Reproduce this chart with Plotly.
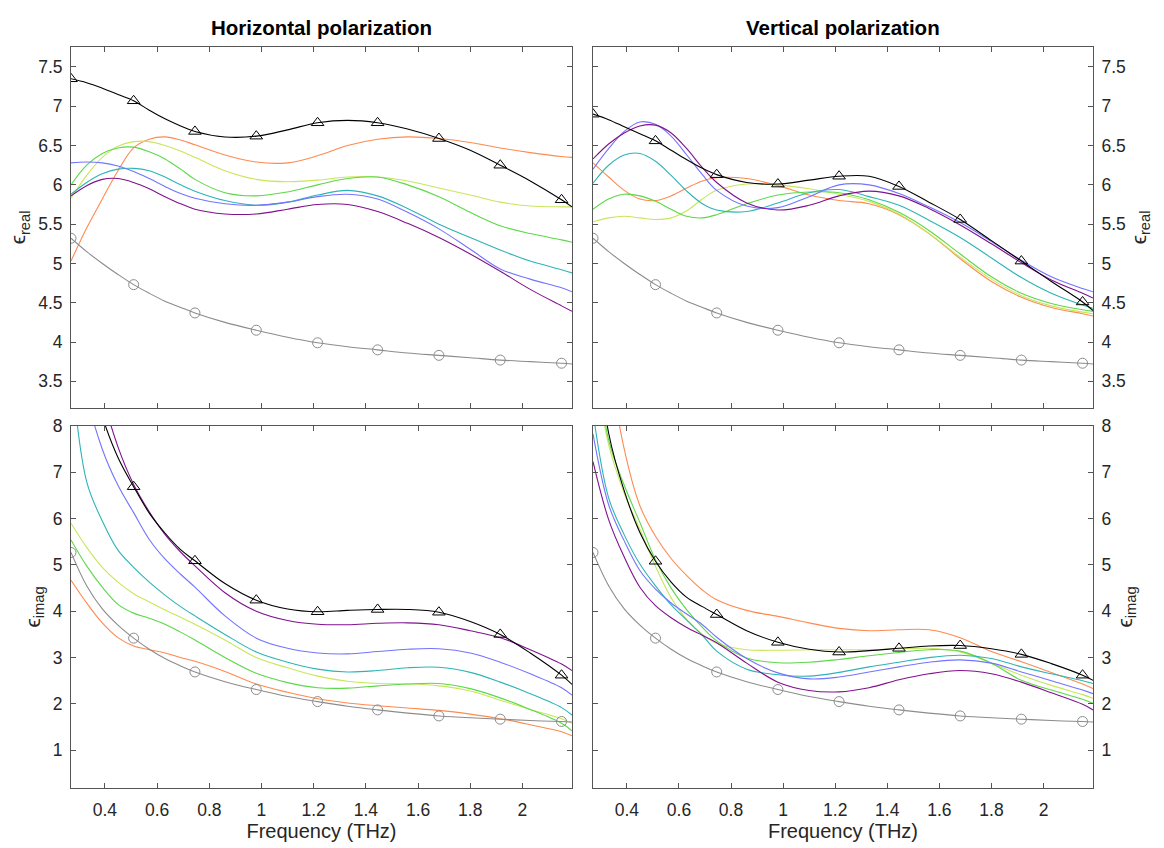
import plotly.graph_objects as go

# ---------------- data ----------------
FREQ = [0.27, 0.33, 0.39, 0.45, 0.51, 0.57, 0.63, 0.69, 0.745, 0.86, 0.98, 1.1,
        1.215, 1.33, 1.445, 1.56, 1.68, 1.8, 1.915, 2.03, 2.15, 2.19]
MARKER_FREQ = [0.27, 0.51, 0.745, 0.98, 1.215, 1.445, 1.68, 1.915, 2.15]

# Horizontal polarization, real part
H_REAL_BLACK = [7.35, 7.30, 7.23, 7.15, 7.07, 6.95, 6.84, 6.75, 6.68, 6.61, 6.62, 6.70,
                6.79, 6.82, 6.79, 6.71, 6.59, 6.44, 6.25, 6.05, 5.81, 5.72]
H_REAL_PURPLE = [5.86, 5.99, 6.07, 6.08, 6.03, 5.95, 5.85, 5.76, 5.69, 5.63, 5.63, 5.69,
                 5.75, 5.75, 5.66, 5.51, 5.33, 5.12, 4.90, 4.67, 4.46, 4.39]
H_REAL_BLUE = [6.28, 6.29, 6.28, 6.24, 6.17, 6.08, 5.98, 5.89, 5.83, 5.76, 5.74, 5.78,
               5.85, 5.88, 5.82, 5.65, 5.44, 5.18, 4.93, 4.80, 4.69, 4.64]
H_REAL_TEAL = [5.88, 6.03, 6.14, 6.20, 6.21, 6.18, 6.10, 6.00, 5.92, 5.80, 5.74, 5.78,
               5.87, 5.93, 5.86, 5.70, 5.50, 5.33, 5.17, 5.03, 4.92, 4.88]
H_REAL_GREEN = [6.00, 6.25, 6.40, 6.47, 6.48, 6.42, 6.33, 6.20, 6.07, 5.90, 5.86, 5.91,
                6.00, 6.08, 6.10, 6.00, 5.85, 5.65, 5.48, 5.38, 5.30, 5.27]
H_REAL_YELLOW = [5.83, 6.12, 6.35, 6.49, 6.55, 6.55, 6.50, 6.43, 6.35, 6.18, 6.07, 6.04,
                 6.06, 6.10, 6.10, 6.05, 5.96, 5.87, 5.78, 5.73, 5.72, 5.72]
H_REAL_ORANGE = [5.03, 5.45, 5.82, 6.18, 6.47, 6.58, 6.61, 6.57, 6.51, 6.38, 6.29, 6.28,
                 6.37, 6.50, 6.58, 6.61, 6.59, 6.54, 6.47, 6.41, 6.36, 6.35]

# Vertical polarization, real part
V_REAL_BLACK = [6.90, 6.83, 6.74, 6.65, 6.56, 6.44, 6.32, 6.21, 6.13, 6.03, 6.01, 6.06,
                6.11, 6.11, 5.98, 5.78, 5.56, 5.29, 5.03, 4.77, 4.51, 4.40]
V_REAL_PURPLE = [6.33, 6.52, 6.66, 6.75, 6.76, 6.66, 6.46, 6.22, 6.03, 5.77, 5.68, 5.74,
                 5.86, 5.92, 5.86, 5.70, 5.49, 5.25, 5.01, 4.79, 4.62, 4.56]
V_REAL_BLUE = [6.20, 6.46, 6.68, 6.80, 6.77, 6.62, 6.38, 6.13, 5.93, 5.73, 5.71, 5.85,
               6.00, 6.00, 5.89, 5.72, 5.52, 5.28, 5.04, 4.83, 4.68, 4.64]
V_REAL_TEAL = [6.02, 6.25, 6.38, 6.40, 6.30, 6.12, 5.92, 5.76, 5.68, 5.66, 5.77, 5.90,
               5.94, 5.85, 5.74, 5.55, 5.33, 5.07, 4.82, 4.62, 4.47, 4.43]
V_REAL_GREEN = [5.69, 5.82, 5.88, 5.86, 5.79, 5.69, 5.60, 5.58, 5.62, 5.76, 5.87, 5.91,
                5.90, 5.81, 5.65, 5.42, 5.12, 4.83, 4.62, 4.49, 4.41, 4.39]
V_REAL_YELLOW = [5.53, 5.58, 5.60, 5.58, 5.56, 5.58, 5.67, 5.82, 5.93, 6.01, 6.00, 5.95,
                 5.88, 5.79, 5.63, 5.38, 5.08, 4.80, 4.59, 4.46, 4.38, 4.36]
V_REAL_ORANGE = [6.28, 6.10, 5.93, 5.82, 5.80, 5.86, 5.96, 6.05, 6.09, 6.08, 5.99, 5.87,
                 5.80, 5.76, 5.62, 5.38, 5.06, 4.77, 4.57, 4.44, 4.36, 4.33]

# Reference (gray) real part, both polarizations
REAL_GRAY = [5.32, 5.15, 5.00, 4.86, 4.73, 4.62, 4.52, 4.44, 4.37, 4.25, 4.15, 4.06,
             3.99, 3.94, 3.90, 3.86, 3.83, 3.80, 3.77, 3.75, 3.73, 3.72]

# Horizontal polarization, imaginary part
H_IMAG_BLACK = [11.1, 9.4, 8.2, 7.32, 6.69, 6.12, 5.69, 5.33, 5.09, 4.60, 4.24, 4.05,
                3.99, 4.02, 4.04, 4.04, 3.98, 3.78, 3.50, 3.10, 2.62, 2.42]
H_IMAG_PURPLE = [13.0, 10.5, 8.7, 7.55, 6.74, 6.15, 5.66, 5.28, 4.98, 4.40, 4.00, 3.80,
                 3.72, 3.71, 3.74, 3.75, 3.71, 3.58, 3.43, 3.17, 2.86, 2.72]
H_IMAG_BLUE = [11.5, 8.7, 7.5, 6.72, 6.13, 5.55, 5.13, 4.80, 4.52, 3.90, 3.42, 3.20,
               3.10, 3.08, 3.13, 3.18, 3.19, 3.10, 2.90, 2.65, 2.35, 2.19]
H_IMAG_TEAL = [9.3, 6.8, 5.95, 5.32, 4.95, 4.63, 4.35, 4.10, 3.90, 3.50, 3.12, 2.90,
               2.75, 2.69, 2.72, 2.78, 2.79, 2.68, 2.47, 2.22, 1.92, 1.76]
H_IMAG_GREEN = [5.54, 4.98, 4.52, 4.15, 3.96, 3.85, 3.72, 3.55, 3.38, 3.00, 2.66, 2.46,
                2.35, 2.34, 2.39, 2.43, 2.44, 2.33, 2.13, 1.88, 1.58, 1.42]
H_IMAG_YELLOW = [5.90, 5.38, 4.95, 4.63, 4.38, 4.20, 4.03, 3.87, 3.72, 3.38, 3.00, 2.78,
                 2.60, 2.49, 2.44, 2.43, 2.39, 2.28, 2.08, 1.88, 1.68, 1.58]
H_IMAG_ORANGE = [4.67, 4.18, 3.75, 3.43, 3.25, 3.17, 3.10, 3.00, 2.92, 2.70, 2.43, 2.25,
                 2.11, 2.02, 1.96, 1.91, 1.86, 1.78, 1.68, 1.55, 1.40, 1.31]

# Vertical polarization, imaginary part
V_IMAG_BLACK = [10.5, 7.85, 6.6, 5.7, 5.08, 4.63, 4.30, 4.10, 3.93, 3.58, 3.33, 3.18,
                3.12, 3.15, 3.20, 3.25, 3.26, 3.19, 3.07, 2.87, 2.62, 2.51]
V_IMAG_PURPLE = [7.23, 5.98, 5.17, 4.52, 4.12, 3.86, 3.65, 3.48, 3.32, 2.88, 2.47, 2.29,
                 2.26, 2.35, 2.52, 2.65, 2.72, 2.65, 2.47, 2.24, 1.99, 1.87]
V_IMAG_BLUE = [7.83, 6.30, 5.52, 4.88, 4.48, 4.18, 3.94, 3.71, 3.44, 2.98, 2.67, 2.54,
               2.58, 2.69, 2.80, 2.90, 2.95, 2.88, 2.69, 2.50, 2.30, 2.22]
V_IMAG_TEAL = [8.3, 6.45, 5.65, 5.02, 4.55, 4.14, 3.81, 3.48, 3.14, 2.75, 2.63, 2.60,
               2.68, 2.80, 2.90, 3.00, 3.05, 2.98, 2.80, 2.65, 2.50, 2.44]
V_IMAG_GREEN = [10.0, 7.7, 6.72, 5.92, 5.11, 4.50, 4.03, 3.65, 3.36, 2.99, 2.89, 2.90,
                2.96, 3.04, 3.11, 3.17, 3.14, 2.88, 2.51, 2.30, 2.10, 2.01]
V_IMAG_YELLOW = [9.5, 7.6, 6.55, 5.77, 4.97, 4.29, 3.82, 3.50, 3.31, 3.17, 3.16, 3.17,
                 3.17, 3.17, 3.19, 3.20, 3.12, 2.88, 2.62, 2.40, 2.20, 2.12]
V_IMAG_ORANGE = [13.0, 9.5, 7.5, 6.28, 5.62, 5.14, 4.77, 4.46, 4.25, 4.02, 3.89, 3.75,
                 3.63, 3.58, 3.60, 3.60, 3.43, 3.13, 2.91, 2.68, 2.43, 2.33]

# Reference (gray) imaginary part, both polarizations
IMAG_GRAY = [5.27, 4.55, 4.05, 3.70, 3.42, 3.18, 2.98, 2.82, 2.69, 2.48, 2.31, 2.16,
             2.05, 1.95, 1.87, 1.80, 1.74, 1.70, 1.67, 1.64, 1.62, 1.61]

X_TICKS = [0.4, 0.6, 0.8, 1.0, 1.2, 1.4, 1.6, 1.8, 2.0]
REAL_TICKS = [3.5, 4, 4.5, 5, 5.5, 6, 6.5, 7, 7.5]
IMAG_TICKS = [1, 2, 3, 4, 5, 6, 7, 8]

# ---------------- styles ----------------
COLORS = {
    "purple": "#80128E",
    "blue": "#7474FF",
    "teal": "#2EB4B6",
    "green": "#5CD848",
    "yellow": "#C8E65A",
    "orange": "#FF8A4F",
}
FONT = "Liberation Sans, Arial, Helvetica, sans-serif"
TXT = "#262626"
AX = "#555555"

fig = go.Figure()

panels = [
    ("x", "y", {"orange": H_REAL_ORANGE, "yellow": H_REAL_YELLOW, "green": H_REAL_GREEN,
                "teal": H_REAL_TEAL, "blue": H_REAL_BLUE, "purple": H_REAL_PURPLE},
     H_REAL_BLACK, REAL_GRAY),
    ("x2", "y2", {"orange": V_REAL_ORANGE, "yellow": V_REAL_YELLOW, "green": V_REAL_GREEN,
                  "teal": V_REAL_TEAL, "blue": V_REAL_BLUE, "purple": V_REAL_PURPLE},
     V_REAL_BLACK, REAL_GRAY),
    ("x3", "y3", {"orange": H_IMAG_ORANGE, "yellow": H_IMAG_YELLOW, "green": H_IMAG_GREEN,
                  "teal": H_IMAG_TEAL, "blue": H_IMAG_BLUE, "purple": H_IMAG_PURPLE},
     H_IMAG_BLACK, IMAG_GRAY),
    ("x4", "y4", {"orange": V_IMAG_ORANGE, "yellow": V_IMAG_YELLOW, "green": V_IMAG_GREEN,
                  "teal": V_IMAG_TEAL, "blue": V_IMAG_BLUE, "purple": V_IMAG_PURPLE},
     V_IMAG_BLACK, IMAG_GRAY),
]

marker_idx = [FREQ.index(f) for f in MARKER_FREQ]

for xa, ya, series, black, gray in panels:
    for name, vals in series.items():
        fig.add_trace(go.Scatter(
            x=FREQ, y=vals, mode="lines", xaxis=xa, yaxis=ya,
            line=dict(color=COLORS[name], width=1.1, shape="spline", smoothing=1.0),
            showlegend=False, hoverinfo="skip"))
    fig.add_trace(go.Scatter(
        x=FREQ, y=gray, mode="lines", xaxis=xa, yaxis=ya,
        line=dict(color="#8C8C8C", width=1.1, shape="spline", smoothing=1.0),
        showlegend=False, hoverinfo="skip"))
    fig.add_trace(go.Scatter(
        x=[FREQ[i] for i in marker_idx], y=[gray[i] for i in marker_idx],
        mode="markers", xaxis=xa, yaxis=ya,
        marker=dict(symbol="circle-open", size=10, color="#8C8C8C", line=dict(width=1)),
        showlegend=False, hoverinfo="skip"))
    fig.add_trace(go.Scatter(
        x=FREQ, y=black, mode="lines", xaxis=xa, yaxis=ya,
        line=dict(color="#000000", width=1.1, shape="spline", smoothing=1.0),
        showlegend=False, hoverinfo="skip"))
    fig.add_trace(go.Scatter(
        x=[FREQ[i] for i in marker_idx], y=[black[i] for i in marker_idx],
        mode="markers", xaxis=xa, yaxis=ya, cliponaxis=True,
        marker=dict(symbol="triangle-up-open", size=11, color="#000000", line=dict(width=1)),
        showlegend=False, hoverinfo="skip"))

W, H = 1164, 848
XL = [71 / W, 572 / W]
XR = [593 / W, 1093 / W]
YT = [1 - 403 / H, 1 - 37 / H]
YB = [1 - 787 / H, 1 - 421 / H]

common_axis = dict(
    showline=True, linecolor=AX, linewidth=1, mirror="ticks",
    ticks="inside", ticklen=5, tickwidth=1, tickcolor=AX,
    showgrid=False, zeroline=False,
    tickfont=dict(family=FONT, size=17.5, color=TXT),
)

xrange = [0.27, 2.19]
XT_FONT = dict(family=FONT, size=20, color=TXT)
YT_FONT = dict(family=FONT, size=21, color=TXT)

fig.update_layout(
    width=W, height=H,
    margin=dict(l=0, r=0, t=0, b=0),
    paper_bgcolor="white", plot_bgcolor="white",
    font=dict(family=FONT, color=TXT),
    xaxis=dict(domain=XL, range=xrange, anchor="y", tickvals=X_TICKS,
               showticklabels=False, **common_axis),
    xaxis2=dict(domain=XR, range=xrange, anchor="y2", tickvals=X_TICKS,
                showticklabels=False, **common_axis),
    xaxis3=dict(domain=XL, range=xrange, anchor="y3", tickvals=X_TICKS, ticklabelstandoff=6,
                title=dict(text="Frequency (THz)", font=XT_FONT, standoff=4),
                **common_axis),
    xaxis4=dict(domain=XR, range=xrange, anchor="y4", tickvals=X_TICKS, ticklabelstandoff=6,
                title=dict(text="Frequency (THz)", font=XT_FONT, standoff=4),
                **common_axis),
    yaxis=dict(domain=YT, range=[3.157, 7.76], anchor="x", tickvals=REAL_TICKS,
               ticklabelstandoff=4,
               title=dict(text="ϵ<sub>real</sub>", font=YT_FONT, standoff=6),
               **common_axis),
    yaxis2=dict(domain=YT, range=[3.157, 7.76], anchor="x2", side="right", tickvals=REAL_TICKS,
                ticklabelstandoff=4,
                title=dict(text="ϵ<sub>real</sub>", font=YT_FONT, standoff=6),
                **common_axis),
    yaxis3=dict(domain=YB, range=[0.19, 8.0], anchor="x3", tickvals=IMAG_TICKS,
                ticklabelstandoff=4,
                title=dict(text="ϵ<sub>imag</sub>", font=YT_FONT, standoff=6),
                **common_axis),
    yaxis4=dict(domain=YB, range=[0.19, 8.0], anchor="x4", side="right", tickvals=IMAG_TICKS,
                ticklabelstandoff=4,
                title=dict(text="ϵ<sub>imag</sub>", font=YT_FONT, standoff=6),
                **common_axis),
    annotations=[
        dict(text="<b>Horizontal polarization</b>", x=(XL[0] + XL[1]) / 2, y=1 - 18 / H,
             xref="paper", yref="paper", xanchor="center", yanchor="middle", showarrow=False,
             font=dict(family=FONT, size=20.5, color="#000000")),
        dict(text="<b>Vertical polarization</b>", x=(XR[0] + XR[1]) / 2, y=1 - 18 / H,
             xref="paper", yref="paper", xanchor="center", yanchor="middle", showarrow=False,
             font=dict(family=FONT, size=20.5, color="#000000")),
    ],
)

fig.write_html("out.html")
